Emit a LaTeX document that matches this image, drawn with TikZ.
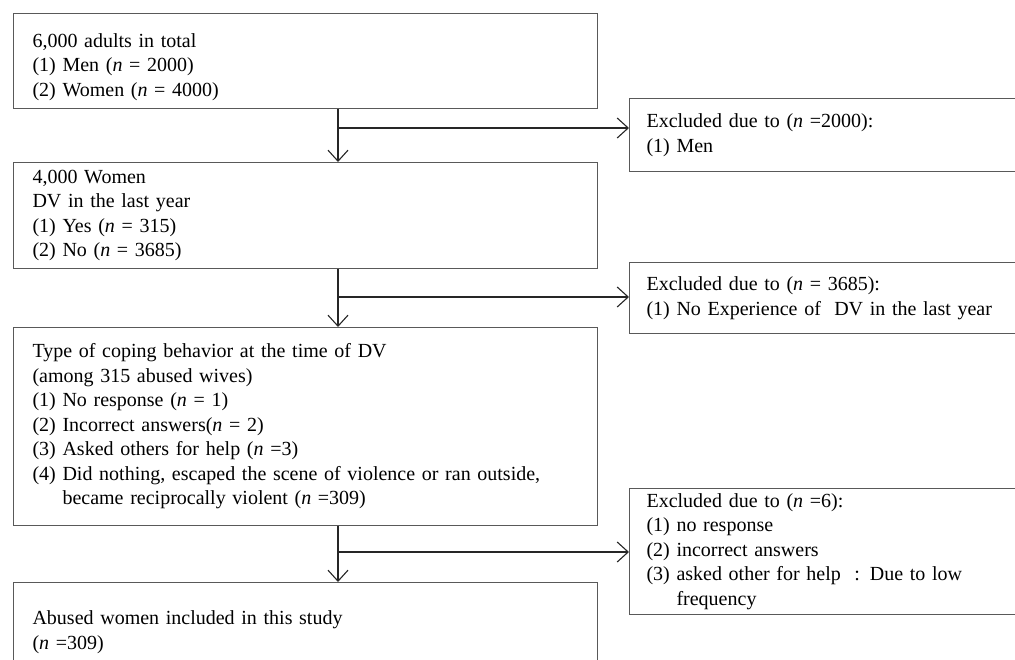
\documentclass[tikz,border=0pt]{standalone}
\usepackage{fontspec}
\setmainfont{Liberation Serif}
\usetikzlibrary{arrows.meta,calc}
\newcommand{\nn}{\textit{n}}
\newcommand{\hng}{\hphantom{(4)}\ }
\tikzset{%
	block/.style    = {draw=black!65, line width=1.1pt, rectangle, anchor=north west, align=left,
		text width=546pt, inner xsep=19pt, inner ysep=0pt, font=\fontsize{20}{24.5}\selectfont}, % Stage
	excl/.style     = {block, text width=450pt, inner xsep=17pt}, % Excluded
	waypoint/.style = {coordinate}, % Branch
	flow/.style     = {draw=black!85, line width=1.1pt, -{Straight Barb[length=11pt,width=20pt]}},
}
\begin{document}
\begin{tikzpicture}[x=1pt,y=-1pt]
		\useasboundingbox (0,0) rectangle (1015,660);
		\clip (0,0) rectangle (1015,660);
		\node[block, minimum height=95pt] (adults) at (13,13) {\rule{0pt}{26pt}6,000 adults in total\\(1) Men (\nn{} = 2000)\\(2) Women (\nn{} = 4000)};
		\node[excl, minimum height=73pt] (men) at (629,98) {Excluded due to (\nn{} =2000):\\(1) Men};
		\node[block, minimum height=106pt] (women) at (13,162) {4,000 Women\\DV in the last year\\(1) Yes (\nn{} = 315)\\(2) No (\nn{} = 3685)};
		\node[excl, minimum height=71pt] (nodv) at (629,262) {Excluded due to (\nn{} = 3685):\\(1) No Experience of~ DV in the last year};
		\node[block, minimum height=198pt] (coping) at (13,327) {Type of coping behavior at the time of DV\\(among 315 abused wives)\\(1) No response (\nn{} = 1)\\(2) Incorrect answers(\nn{} = 2)\\(3) Asked others for help (\nn{} =3)\\(4) Did nothing, escaped the scene of violence or ran outside,\\\hng became reciprocally violent (\nn{} =309)};
		\node[excl, minimum height=126pt] (lowfreq) at (629,488) {Excluded due to (\nn{} =6):\\(1) no response\\(2) incorrect answers\\(3) asked other for help~ : Due to low\\\hng frequency};
		\node[block, minimum height=120pt] (study) at (13,582) {Abused women included in this study\\(\nn{} =309)\\~};
		\node[waypoint] (j1) at (338,128) {};
		\node[waypoint] (j2) at (338,297) {};
		\node[waypoint] (j3) at (338,552) {};
		\draw[flow] (adults.south -| j1) -- (women.north -| j1);
		\draw[flow] (j1) -- (j1 -| men.west);
		\draw[flow] (women.south -| j2) -- (coping.north -| j2);
		\draw[flow] (j2) -- (j2 -| nodv.west);
		\draw[flow] (coping.south -| j3) -- (study.north -| j3);
		\draw[flow] (j3) -- (j3 -| lowfreq.west);
		\end{tikzpicture}
\end{document}
